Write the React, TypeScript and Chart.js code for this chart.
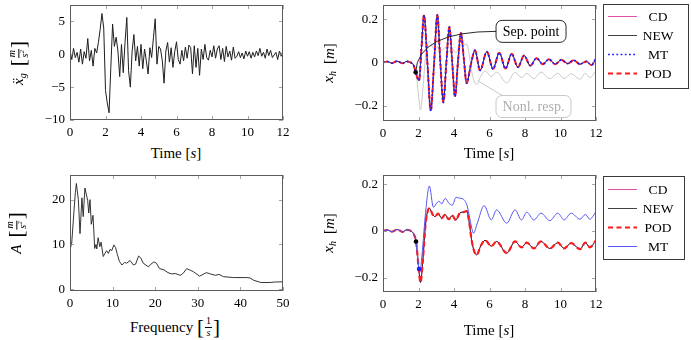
import React, { useEffect, useRef } from 'react';
import { Chart, registerables } from 'chart.js';

Chart.register(...registerables);

const SERIF = '"Liberation Serif", "Times New Roman", serif';

// ---------------- Data ----------------
// ground acceleration (sampled every 0.1 s, 0..12 s)
const accelValues = [
  0.5, -0.8, 0.9, -0.5, 0.3, -1.2, 0.8, -1.5, 0.4, -0.6,
  2.4, -1.0, 0.6, -1.8, 0.9, 0.2, 1.8, 3.8, 6.2, 4.0,
  -5.5, -7.4, -8.9, -2.0, 4.6, 1.2, 2.6, 0.5, -3.4, 1.5,
  -2.8, 1.8, 5.6, -2.5, -5.0, 0.5, 3.0, -1.0, 1.2, -1.8,
  1.5, -2.2, 0.8, -1.0, -3.0, 1.0, -0.5, 2.5, 5.4, -1.5,
  1.2, 0.8, -1.0, -4.4, 0.5, 1.8, -1.2, 1.0, -2.0, 0.4,
  1.9, -0.8, -1.5, 0.6, -1.0, 1.1, -0.6, 1.4, 1.0, -3.0,
  1.3, -2.0, 0.9, -3.2, 0.8, -0.8, 1.5, -0.5, -0.9, 0.6,
  -0.4, 1.3, -0.6, 0.8, 1.3, -0.8, 0.9, -1.1, 1.2, -0.4,
  0.5, -0.9, 1.1, -0.6, -0.3, 0.4, -0.5, 0.2, -0.7, 0.5,
  -0.3, 0.4, -0.6, 0.3, -0.4, 0.5, -0.2, 0.9, -0.3, 0.3,
  -0.6, 0.8, -0.2, 0.6, -0.5, -0.1, 0.3, -0.8, 0.5, -0.3,
  0.6,
];
const accelTime = accelValues.map((_, i) => i / 10);

// Fourier amplitude spectrum
const specFreq = [0, 0.4, 0.9, 1.25, 1.5, 1.96, 2.35, 2.8, 3.1, 3.5, 4.15, 4.4, 4.7, 5.0, 5.4, 5.8, 6.1, 6.3, 6.6, 7.0, 7.3, 7.8, 8.2, 8.6, 9.0, 9.4, 9.8, 10.3, 10.7, 11.1, 11.6, 12.2, 12.8, 13.3, 14.1, 14.9, 15.4, 16.1, 16.6, 17.2, 18.4, 19.0, 19.7, 20.3, 21.0, 22.1, 23.0, 23.9, 24.7, 25.9, 26.6, 27.4, 28.3, 29.0, 30.4, 31.2, 32.0, 33.0, 34.1, 35.0, 36.0, 38.4, 41.5, 42.3, 43.1, 44.8, 47.0, 48.0, 50.0];
const specAmp = [8.8, 10.3, 17, 21.5, 23.6, 20, 12.4, 20.4, 16.2, 22.6, 19.8, 17, 20, 14.5, 16.5, 9.1, 10, 9, 11.5, 9.5, 10.5, 7.3, 8, 8.6, 8.0, 8.9, 8.6, 9.9, 9.3, 7.8, 6.2, 5.4, 6.0, 5.8, 6.4, 5.4, 5.6, 7.4, 7.0, 5.8, 5.0, 5.6, 6.1, 5.8, 4.6, 4.3, 3.7, 3.4, 3.5, 3.1, 3.6, 4.6, 4.2, 3.9, 2.9, 3.3, 3.7, 3.4, 3.1, 3.3, 2.8, 2.6, 2.6, 2.5, 2.0, 1.5, 1.5, 1.6, 1.65];

// linear (separated) response, top right
const linTime = [0, 0.25, 0.5, 0.8, 1.1, 1.35, 1.6, 1.72, 1.84, 2.03, 2.17, 2.31, 2.5, 2.69, 2.88, 3.06, 3.23, 3.4, 3.57, 3.74, 3.9, 4.06, 4.22, 4.39, 4.55, 4.71, 4.95, 5.18, 5.47, 5.85, 6.2, 6.55, 6.9, 7.25, 7.6, 7.95, 8.3, 8.65, 9.0, 9.35, 9.7, 10.05, 10.4, 10.75, 11.1, 11.45, 11.75, 12];
const linValues = [0, 0.004, -0.003, 0.006, -0.004, 0.005, -0.002, -0.012, -0.045, -0.084, 0.07, 0.22, 0.0, -0.223, 0.0, 0.22, 0.0, -0.185, 0.0, 0.164, 0.0, -0.158, 0.0, 0.136, 0.02, -0.096, -0.01, 0.056, -0.037, 0.05, -0.03, 0.045, -0.028, 0.04, -0.022, 0.032, -0.015, 0.02, -0.008, 0.015, -0.008, 0.012, -0.005, 0.01, -0.008, 0.005, -0.012, 0.02];

// nonlinear response (CD / NEW / POD), also grey curve top right
const nlTime = [0, 0.25, 0.5, 0.8, 1.1, 1.35, 1.6, 1.72, 1.86, 2.0, 2.11, 2.25, 2.4, 2.61, 2.8, 2.93, 3.1, 3.3, 3.5, 3.7, 3.9, 4.1, 4.33, 4.5, 4.72, 4.85, 4.99, 5.15, 5.28, 5.5, 5.75, 6.1, 6.4, 6.97, 7.44, 7.8, 8.1, 8.5, 8.9, 9.4, 9.85, 10.2, 10.6, 11.1, 11.4, 11.65, 12];
const nlValues = [0, 0.004, -0.003, 0.006, -0.004, 0.005, -0.002, -0.012, -0.045, -0.15, -0.22, -0.12, 0.03, 0.097, 0.07, 0.061, 0.074, 0.055, 0.07, 0.05, 0.066, 0.046, 0.077, 0.08, 0.085, 0.04, -0.038, -0.09, -0.102, -0.065, -0.04, -0.065, -0.045, -0.095, -0.045, -0.07, -0.05, -0.075, -0.045, -0.075, -0.05, -0.075, -0.052, -0.078, -0.05, -0.07, -0.04];

// MT response, bottom right
const mtTime = [0, 0.25, 0.5, 0.8, 1.1, 1.35, 1.6, 1.72, 1.86, 2.03, 2.08, 2.2, 2.4, 2.61, 2.84, 3.03, 3.16, 3.3, 3.5, 3.73, 3.9, 4.12, 4.3, 4.5, 4.73, 4.9, 5.1, 5.3, 5.7, 6.1, 6.4, 6.97, 7.44, 7.8, 8.1, 8.5, 8.9, 9.4, 9.85, 10.2, 10.6, 11.1, 11.4, 11.65, 12];
const mtValues = [0, 0.004, -0.003, 0.006, -0.004, 0.005, -0.002, -0.012, -0.045, -0.163, -0.175, -0.1, 0.08, 0.192, 0.101, 0.12, 0.127, 0.115, 0.139, 0.117, 0.11, 0.144, 0.14, 0.137, 0.11, 0.05, -0.01, 0.03, 0.108, 0.047, 0.09, 0.033, 0.09, 0.047, 0.08, 0.047, 0.076, 0.044, 0.076, 0.047, 0.076, 0.05, 0.07, 0.05, 0.083];

// separation points
const sepTopTime = [1.84];
const sepTopValue = [-0.045];
const sepNewTime = [1.86];
const sepNewValue = [-0.045];
const sepMtTime = [2.03];
const sepMtValue = [-0.163];

// tick labels
const timeTicks = [0, 2, 4, 6, 8, 10, 12];
const accelTicks = [-10, -5, 0, 5];
const freqTicks = [0, 10, 20, 30, 40, 50];
const ampTicks = [0, 10, 20];
const dispTicks = [-0.2, 0, 0.2];

// ---------------- helpers ----------------
const pts = (xs: number[], ys: number[]) => xs.map((x, i) => ({ x, y: ys[i] }));
const fmt = (v: number) => (v < 0 ? '\u2212' : '') + String(Math.abs(Math.round(v * 1000) / 1000));

const COL = {
  cd: '#dc3c9c',
  black: '#111111',
  mt: '#1c1cff',
  mtLight: '#5656f2',
  pod: '#ff1a1a',
  grey: '#c4c4c4',
};

function axis(min: number, max: number, ticks: number[], size: number, isX: boolean) {
  return {
    type: 'linear',
    min,
    max,
    grid: { display: false, drawTicks: false },
    border: { display: false },
    ticks: {
      font: { family: SERIF, size: 13 },
      color: '#000',
      padding: 5,
      maxRotation: 0,
      autoSkip: false,
      callback: (v: number) => fmt(v),
    },
    afterBuildTicks: (s: any) => {
      s.ticks = ticks.map((v) => ({ value: v }));
    },
    afterFit: (s: any) => {
      if (isX) s.height = size;
      else s.width = size;
      s.paddingLeft = 0;
      s.paddingRight = 0;
      s.paddingTop = 0;
      s.paddingBottom = 0;
    },
  };
}

const framePlugin = {
  id: 'pgfFrame',
  afterDatasetsDraw(chart: any) {
    const { ctx, chartArea: a, scales } = chart;
    const tl = 4;
    ctx.save();
    ctx.strokeStyle = '#8f8f8f';
    ctx.lineWidth = 0.8;
    ctx.beginPath();
    scales.x.ticks.forEach((t: any) => {
      const px = Math.round(scales.x.getPixelForValue(t.value)) + 0.5;
      ctx.moveTo(px, a.bottom);
      ctx.lineTo(px, a.bottom - tl);
      ctx.moveTo(px, a.top);
      ctx.lineTo(px, a.top + tl);
    });
    scales.y.ticks.forEach((t: any) => {
      const py = Math.round(scales.y.getPixelForValue(t.value)) + 0.5;
      ctx.moveTo(a.left, py);
      ctx.lineTo(a.left + tl, py);
      ctx.moveTo(a.right, py);
      ctx.lineTo(a.right - tl, py);
    });
    ctx.stroke();
    ctx.strokeStyle = '#5c5c5c';
    ctx.lineWidth = 1;
    ctx.strokeRect(a.left + 0.5, a.top + 0.5, a.right - a.left - 1, a.bottom - a.top - 1);
    ctx.restore();
  },
};

function roundRect(ctx: CanvasRenderingContext2D, x: number, y: number, w: number, h: number, r: number) {
  ctx.beginPath();
  ctx.moveTo(x + r, y);
  ctx.arcTo(x + w, y, x + w, y + h, r);
  ctx.arcTo(x + w, y + h, x, y + h, r);
  ctx.arcTo(x, y + h, x, y, r);
  ctx.arcTo(x, y, x + w, y, r);
  ctx.closePath();
}

const legendPlugin = {
  id: 'boxLegend',
  afterDraw(chart: any, _args: any, opts: any) {
    if (!opts || !opts.labels) return;
    const { ctx, chartArea: a } = chart;
    const x = a.right + opts.dx;
    const y = a.top + opts.dy;
    ctx.save();
    ctx.fillStyle = '#fff';
    ctx.fillRect(x, y, opts.w, opts.h);
    ctx.strokeStyle = '#3a3a3a';
    ctx.lineWidth = 1;
    ctx.strokeRect(x + 0.5, y + 0.5, opts.w, opts.h);
    opts.labels.forEach((label: string, i: number) => {
      const ds = chart.data.datasets.find((d: any) => d.label === label);
      if (!ds) return;
      const cy = Math.round(y + opts.first + i * opts.step) + 0.5;
      ctx.strokeStyle = ds.borderColor;
      ctx.lineWidth = ds.borderWidth;
      ctx.setLineDash(ds.borderDash || []);
      ctx.beginPath();
      ctx.moveTo(x + 5, cy);
      ctx.lineTo(x + 34, cy);
      ctx.stroke();
      ctx.setLineDash([]);
      ctx.fillStyle = '#000';
      ctx.font = `13.5px ${SERIF}`;
      ctx.textAlign = 'center';
      ctx.textBaseline = 'middle';
      ctx.fillText(label, x + 55, cy + 0.5);
    });
    ctx.restore();
  },
};

const calloutPlugin = {
  id: 'callouts',
  afterDatasetsDraw(chart: any, _args: any, opts: any) {
    if (!opts || !opts.items) return;
    const { ctx, scales } = chart;
    ctx.save();
    opts.items.forEach((it: any) => {
      const ax = scales.x.getPixelForValue(it.ax);
      const ay = scales.y.getPixelForValue(it.ay);
      const bx = scales.x.getPixelForValue(it.bx);
      const by = scales.y.getPixelForValue(it.by);
      const left = bx - it.w / 2;
      const top = by - it.h / 2;
      ctx.strokeStyle = it.lineColor;
      ctx.lineWidth = 0.9;
      ctx.beginPath();
      ctx.moveTo(ax, ay);
      if (it.curve) {
        ctx.quadraticCurveTo(ax + 2, by, left, by);
      } else {
        ctx.lineTo(left + 8, top + 1);
      }
      ctx.stroke();
      roundRect(ctx, left, top, it.w, it.h, 6);
      ctx.fillStyle = '#fff';
      ctx.fill();
      ctx.strokeStyle = it.lineColor;
      ctx.lineWidth = 0.9;
      ctx.stroke();
      ctx.fillStyle = it.textColor;
      ctx.font = `14px ${SERIF}`;
      ctx.textAlign = 'center';
      ctx.textBaseline = 'middle';
      ctx.fillText(it.text, bx, by + 1);
    });
    ctx.restore();
  },
};

const lineDs = (label: string, xs: number[], ys: number[], color: string, width: number, dash: number[] = [], smooth = true) => ({
  label,
  data: pts(xs, ys),
  borderColor: color,
  backgroundColor: color,
  borderWidth: width,
  borderDash: dash,
  pointRadius: 0,
  fill: false,
  tension: 0,
  cubicInterpolationMode: smooth ? 'monotone' : 'default',
});

const dotDs = (label: string, xs: number[], ys: number[], color: string) => ({
  label,
  data: pts(xs, ys),
  showLine: false,
  pointRadius: 2.3,
  pointBackgroundColor: color,
  pointBorderWidth: 0,
  borderColor: color,
  backgroundColor: color,
});

function baseOptions(padRight: number, xAxis: any, yAxis: any, plugins: any = {}) {
  return {
    responsive: false,
    maintainAspectRatio: false,
    animation: false,
    events: [],
    layout: { padding: { left: 20, top: 5, right: padRight, bottom: 0 } },
    plugins: { legend: { display: false }, tooltip: { enabled: false }, ...plugins },
    scales: { x: xAxis, y: yAxis },
  };
}

const tlConfig = {
  type: 'line',
  data: { datasets: [lineDs('accel', accelTime, accelValues, '#1e1e1e', 1, [], false)] },
  options: baseOptions(10, axis(0, 12, timeTicks, 24, true), axis(-10, 7.5, accelTicks, 50, false)),
  plugins: [framePlugin],
};

const trConfig = {
  type: 'line',
  data: {
    datasets: [
      dotDs('sep', sepTopTime, sepTopValue, '#000'),
      lineDs('MT', linTime, linValues, COL.mt, 1.7, [1.8, 2.4]),
      lineDs('POD', linTime, linValues, COL.pod, 2, [5, 3.5]),
      lineDs('NEW', linTime, linValues, COL.black, 0.8),
      lineDs('CD', linTime, linValues, COL.cd, 0.9),
      lineDs('nonl', nlTime, nlValues, COL.grey, 0.9),
    ],
  },
  options: baseOptions(95, axis(0, 12, timeTicks, 24, true), axis(-0.271, 0.266, dispTicks, 50, false), {
    boxLegend: { labels: ['CD', 'NEW', 'MT', 'POD'], dx: 7, dy: -1, w: 85, h: 84, first: 12, step: 19 },
    callouts: {
      items: [
        { ax: 1.84, ay: -0.045, bx: 8.34, by: 0.144, w: 70, h: 22, text: 'Sep. point', lineColor: '#111', textColor: '#000', curve: true },
        { ax: 5.35, ay: -0.085, bx: 8.48, by: -0.204, w: 75, h: 22, text: 'Nonl. resp.', lineColor: '#c2c2c2', textColor: '#adadad', curve: false },
      ],
    },
  }),
  plugins: [framePlugin, calloutPlugin, legendPlugin],
};

const blConfig = {
  type: 'line',
  data: { datasets: [lineDs('A', specFreq, specAmp, '#1e1e1e', 0.9, [], false)] },
  options: baseOptions(10, axis(0, 50, freqTicks, 24, true), axis(-0.4, 25.5, ampTicks, 50, false)),
  plugins: [framePlugin],
};

const brConfig = {
  type: 'line',
  data: {
    datasets: [
      dotDs('sepNew', sepNewTime, sepNewValue, '#000'),
      dotDs('sepMt', sepMtTime, sepMtValue, '#2020ff'),
      lineDs('MT', mtTime, mtValues, COL.mtLight, 1),
      lineDs('POD', nlTime, nlValues, COL.pod, 2.2, [5, 3.5]),
      lineDs('NEW', nlTime, nlValues, COL.black, 0.8),
      lineDs('CD', nlTime, nlValues, COL.cd, 0.9),
    ],
  },
  options: baseOptions(95, axis(0, 12, timeTicks, 24, true), axis(-0.261, 0.239, dispTicks, 50, false), {
    boxLegend: { labels: ['CD', 'NEW', 'POD', 'MT'], dx: 7, dy: 1, w: 81, h: 83, first: 12.5, step: 19.2 },
  }),
  plugins: [framePlugin, legendPlugin],
};

function ChartPanel({ left, top, width, height, config }: any) {
  const ref = useRef<HTMLCanvasElement>(null);
  useEffect(() => {
    const chart = new Chart(ref.current as HTMLCanvasElement, config);
    return () => chart.destroy();
  }, []);
  return <canvas ref={ref} width={width} height={height} style={{ position: 'absolute', left, top, width, height }} />;
}

function Frac({ num, den }: any) {
  return (
    <span style={{ display: 'inline-flex', flexDirection: 'column', alignItems: 'center', fontSize: 10, lineHeight: 1.05, margin: '0 1px', fontStyle: 'italic' }}>
      <span style={{ borderBottom: '0.7px solid #000', padding: '0 1px' }}>{num}</span>
      <span>{den}</span>
    </span>
  );
}

function Br({ children }: any) {
  return (
    <span style={{ display: 'inline-flex', alignItems: 'center' }}>
      <span style={{ fontSize: 21, lineHeight: 1, fontWeight: 300 }}>[</span>
      {children}
      <span style={{ fontSize: 21, lineHeight: 1, fontWeight: 300 }}>]</span>
    </span>
  );
}

function YTitle({ x, y, children }: any) {
  return (
    <div style={{ position: 'absolute', left: x, top: y, transform: 'translate(-50%,-50%) rotate(-90deg)', whiteSpace: 'nowrap', fontFamily: SERIF, fontSize: 15, display: 'flex', alignItems: 'center', color: '#000' }}>
      {children}
    </div>
  );
}

function XTitle({ x, y, children }: any) {
  return (
    <div style={{ position: 'absolute', left: x, top: y, transform: 'translate(-50%,-50%)', whiteSpace: 'nowrap', fontFamily: SERIF, fontSize: 15, display: 'flex', alignItems: 'center', color: '#000' }}>
      {children}
    </div>
  );
}

const TimeTitle = () => (
  <>
    <span>Time&nbsp;</span>
    <span>[<i>s</i>]</span>
  </>
);

const XhTitle = () => (
  <>
    <span>
      <i>x</i>
      <sub style={{ fontSize: 10, verticalAlign: '-3px' }}><i>h</i></sub>
    </span>
    <span style={{ marginLeft: 7 }}>[<i>m</i>]</span>
  </>
);

export default function App() {
  return (
    <div style={{ position: 'absolute', left: 0, top: 0, width: 691, height: 340, background: '#fff', overflow: 'hidden' }}>
      <ChartPanel left={0} top={0} width={293} height={144} config={tlConfig} />
      <ChartPanel left={313} top={0} width={378} height={145} config={trConfig} />
      <ChartPanel left={0} top={170} width={293} height={145} config={blConfig} />
      <ChartPanel left={313} top={170} width={378} height={146} config={brConfig} />

      <YTitle x={19} y={63}>
        <span>
          <i>ẍ</i>
          <sub style={{ fontSize: 10, verticalAlign: '-3px' }}><i>g</i></sub>
        </span>
        <span style={{ marginLeft: 7 }}>
          <Br><Frac num="m" den={<span>s<sup style={{ fontSize: 7 }}>2</sup></span>} /></Br>
        </span>
      </YTitle>
      <XTitle x={176} y={153}><TimeTitle /></XTitle>

      <YTitle x={329} y={63}><XhTitle /></YTitle>
      <XTitle x={489} y={153}><TimeTitle /></XTitle>

      <YTitle x={17} y={233}>
        <span><i>A</i></span>
        <span style={{ marginLeft: 7 }}>
          <Br><Frac num="m" den={<span>s<sup style={{ fontSize: 7 }}>2</sup></span>} /></Br>
        </span>
      </YTitle>
      <XTitle x={175} y={327}>
        <span>Frequency&nbsp;</span>
        <Br><Frac num={<span style={{ fontStyle: 'normal' }}>1</span>} den="s" /></Br>
      </XTitle>

      <YTitle x={329} y={233}><XhTitle /></YTitle>
      <XTitle x={489} y={330}><TimeTitle /></XTitle>
    </div>
  );
}
